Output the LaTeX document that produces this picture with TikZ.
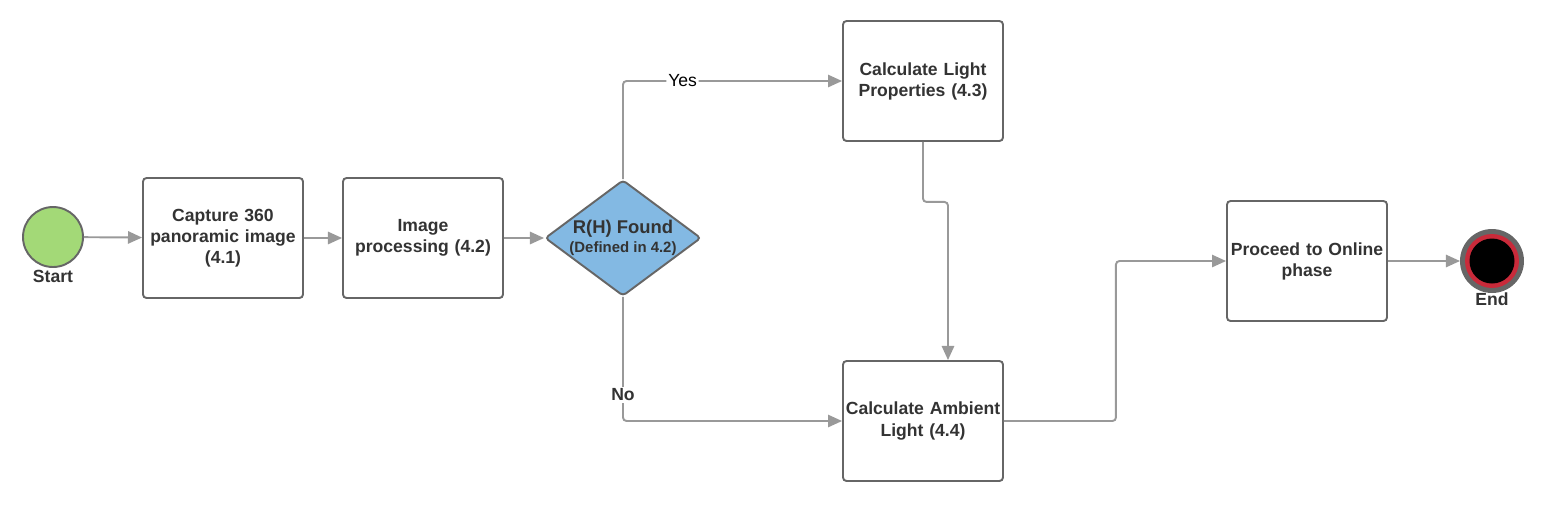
\documentclass[tikz,border=0pt]{standalone}
\usepackage{fontspec}
\setmainfont{Liberation Sans}
\usepackage{tikz}
\usetikzlibrary{arrows.meta,shapes.geometric}

\definecolor{LineGray}{HTML}{999999}
\definecolor{EdgeGray}{HTML}{666666}
\definecolor{TextGray}{HTML}{333333}
\definecolor{StartGreen}{HTML}{A3D977}
\definecolor{DecBlue}{HTML}{83B9E3}
\definecolor{EndRed}{HTML}{C92A3A}

\begin{document}
\begin{tikzpicture}[x=0.02cm,y=-0.02cm,
    stepbox/.style={draw=EdgeGray,line width=1.1pt,rounded corners=2pt,fill=white,
      minimum width=3.2cm,minimum height=2.4cm,text width=3.15cm,inner xsep=0.2pt,
      align=center,font=\bfseries\fontsize{10}{12}\selectfont,text=TextGray},
    conn/.style={draw=LineGray,line width=1.1pt,rounded corners=2pt,
      -{Triangle[length=8pt,width=7pt]}},
    tag/.style={font=\bfseries\fontsize{10}{12}\selectfont,text=TextGray,inner sep=1pt}]%
  \path[use as bounding box] (0,0) rectangle (1543,505);
  % start and end events
  \node[circle,draw=EdgeGray,line width=1.1pt,fill=StartGreen,minimum size=1.2cm,
        inner sep=0pt] (start) at (53,237) {};
  \node[tag] at (53,276) {Start};
  \fill[EdgeGray] (1492,261) circle (0.64cm);
  \fill[EndRed] (1492,261) circle (0.54cm);
  \node[circle,fill=black,minimum size=0.9cm,inner sep=0pt] (end) at (1492,261) {};
  \coordinate (endin) at (1460,261);
  \node[tag] at (1492,299) {End};
  % tasks
  \node[stepbox] (capture) at (223,238) {Capture 360\\panoramic image\\(4.1)};
  \node[stepbox] (improc) at (423,238) {Image\\processing (4.2)};
  \node[diamond,draw=EdgeGray,line width=1.1pt,fill=DecBlue,rounded corners=2pt,
        minimum width=3.12cm,minimum height=2.32cm,inner sep=0pt] (found) at (623,238) {};
  \node[align=center,text=TextGray,inner sep=0pt] (foundtxt) at (found.center)
        {\bfseries\fontsize{10.5}{12}\selectfont R(H) Found\\[-1pt]
         \bfseries\fontsize{8.5}{10}\selectfont (Defined in 4.2)};
  \node[stepbox] (lightprop) at (923,81) {Calculate Light\\Properties (4.3)};
  \node[stepbox] (ambient) at (923,421) {Calculate Ambient\\Light (4.4)};
  \node[stepbox] (online) at (1307,261) {Proceed to Online\\phase};
  % flows
  \draw[conn] (start) -- (capture);
  \draw[conn] (capture) -- (improc);
  \draw[conn] (improc) -- (found);
  \draw[conn] (found.north) |-
    node[pos=0.636,fill=white,inner sep=1pt,text=black,
         font=\fontsize{10}{12}\selectfont] {Yes} (lightprop.west);
  \draw[conn] (found.south) |- (ambient.west);
  \node[tag,fill=white] at (623,395) {No};
  \draw[conn] (lightprop.south) -- ++(0,60) -| ([xshift=0.5cm]ambient.north);
  \draw[conn] (ambient.east) -- ++(112,0) |- (online.west);
  \draw[conn] (online.east) -- (endin);
\end{tikzpicture}
\end{document}
